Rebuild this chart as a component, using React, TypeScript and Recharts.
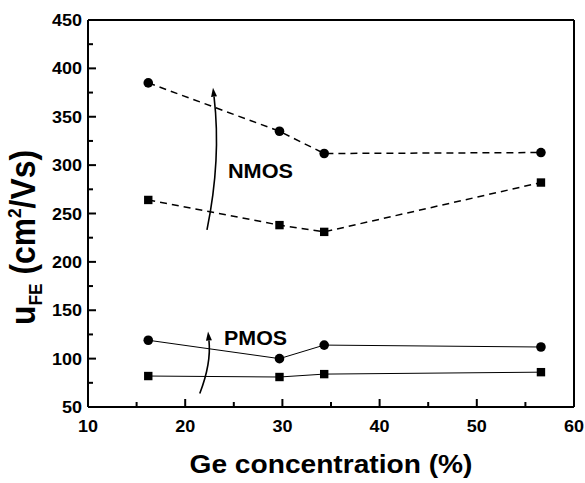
import React from "react";
import { ComposedChart, Line, XAxis, YAxis, ReferenceLine, ReferenceDot } from "recharts";

const geConc = [16.2, 29.7, 34.3, 56.6];
const nmosCircle = [385, 335, 312, 313];
const nmosSquare = [264, 238, 231, 282];
const pmosCircle = [119, 100, 114, 112];
const pmosSquare = [82, 81, 84, 86];

const xTicks = [10, 15, 20, 25, 30, 35, 40, 45, 50, 55, 60];
const yTicks = [50, 75, 100, 125, 150, 175, 200, 225, 250, 275, 300, 325, 350, 375, 400, 425, 450];

const rows = geConc.map((x, i) => ({
  x,
  nc: nmosCircle[i],
  ns: nmosSquare[i],
  pc: pmosCircle[i],
  ps: pmosSquare[i],
}));

const FONT = "'Liberation Sans', Arial, sans-serif";

// inward ticks drawn as reference dots placed on the axes through the chart scales
const xTickMark = (v: number) => (p: any) => {
  const major = v % 10 === 0;
  const label = String(v);
  return (
    <g>
      <line x1={p.cx} x2={p.cx} y1={p.cy} y2={p.cy - (major ? 8 : 5)} stroke="#000" strokeWidth={2} />
      {major && (
        <text x={p.cx} y={p.cy + 25} textAnchor="middle" fontFamily={FONT} fontWeight="bold" fontSize={16}
          textLength={label.length * 10} lengthAdjust="spacingAndGlyphs" fill="#000">
          {label}
        </text>
      )}
    </g>
  );
};

const yTickMark = (v: number) => (p: any) => {
  const major = v % 50 === 0;
  const label = String(v);
  return (
    <g>
      <line x1={p.cx} x2={p.cx + (major ? 8 : 5)} y1={p.cy} y2={p.cy} stroke="#000" strokeWidth={2} />
      {major && (
        <text x={p.cx - 6} y={p.cy + 6} textAnchor="end" fontFamily={FONT} fontWeight="bold" fontSize={16}
          textLength={label.length * 10} lengthAdjust="spacingAndGlyphs" fill="#000">
          {label}
        </text>
      )}
    </g>
  );
};

const Circle = (p: any) => <circle cx={p.cx} cy={p.cy} r={4.8} fill="#000" />;
const Square = (p: any) => <rect x={p.cx - 4.2} y={p.cy - 4.2} width={8.4} height={8.4} fill="#000" />;

const curvedArrow = (bend: number) => (p: any) => {
  const { x1, y1, x2, y2 } = p;
  const dx = x2 - x1;
  const dy = y2 - y1;
  const len = Math.hypot(dx, dy);
  const px = -dy / len;
  const py = dx / len;
  const cx = (x1 + x2) / 2 + px * bend * len;
  const cy = (y1 + y2) / 2 + py * bend * len;
  const ux0 = x2 - cx;
  const uy0 = y2 - cy;
  const un = Math.hypot(ux0, uy0);
  const ux = ux0 / un;
  const uy = uy0 / un;
  const bx = x2 - ux * 9;
  const by = y2 - uy * 9;
  const head = `${x2},${y2} ${bx - uy * 3},${by + ux * 3} ${bx + uy * 3},${by - ux * 3}`;
  return (
    <g>
      <path d={`M${x1},${y1} Q${cx},${cy} ${bx},${by}`} fill="none" stroke="#000" strokeWidth={1.6} />
      <polygon points={head} fill="#000" />
    </g>
  );
};

const YLabel = (p: any) => {
  const vb = p.viewBox;
  const cx = vb.x + 35;
  const cy = vb.y + vb.height / 2 + 24;
  return (
    <text x={cx} y={cy} transform={`rotate(-90, ${cx}, ${cy})`} textAnchor="middle" fontFamily={FONT}
      fontWeight="bold" fontSize={35} fill="#000" textLength={175} lengthAdjust="spacingAndGlyphs">
      u<tspan dy={7} fontSize={19}>FE</tspan>
      <tspan dy={-7}> (cm</tspan>
      <tspan dy={-14} fontSize={19}>2</tspan>
      <tspan dy={14}>/Vs)</tspan>
    </text>
  );
};

const XLabel = (p: any) => {
  const vb = p.viewBox;
  return (
    <text x={vb.x + vb.width / 2} y={vb.y + 66} textAnchor="middle" fontFamily={FONT} fontWeight="bold"
      fontSize={25} fill="#000" textLength={283} lengthAdjust="spacingAndGlyphs">
      Ge concentration (%)
    </text>
  );
};

const textMark = (label: string, width: number) => (p: any) => (
  <text x={p.cx} y={p.cy} fontFamily={FONT} fontWeight="bold" fontSize={21} fill="#000"
    textLength={width} lengthAdjust="spacingAndGlyphs">
    {label}
  </text>
);

export default function App() {
  return (
    <div style={{ position: "absolute", left: 0, top: 0, background: "#fff" }}>
      <ComposedChart width={585} height={483} data={rows} margin={{ top: 20, right: 11, left: 0, bottom: 0 }}>
        <XAxis type="number" dataKey="x" domain={[10, 60]} ticks={xTicks} height={76} tick={false} tickLine={false}
          axisLine={{ stroke: "#000", strokeWidth: 2 }} label={{ content: XLabel }} />
        <YAxis type="number" domain={[50, 450]} ticks={yTicks} width={88} tick={false} tickLine={false}
          axisLine={{ stroke: "#000", strokeWidth: 2 }} label={{ content: YLabel }} />
        <ReferenceLine y={450} stroke="#000" strokeWidth={2} />
        <ReferenceLine x={60} stroke="#000" strokeWidth={2} />
        {xTicks.map((v) => (
          <ReferenceDot key={`xt${v}`} x={v} y={50} r={0} shape={xTickMark(v)} />
        ))}
        {yTicks.map((v) => (
          <ReferenceDot key={`yt${v}`} x={10} y={v} r={0} shape={yTickMark(v)} />
        ))}
        <Line dataKey="nc" stroke="#000" strokeWidth={1.5} strokeDasharray="7 5" dot={Circle} isAnimationActive={false} />
        <Line dataKey="ns" stroke="#000" strokeWidth={1.5} strokeDasharray="7 5" dot={Square} isAnimationActive={false} />
        <Line dataKey="pc" stroke="#000" strokeWidth={1} dot={Circle} isAnimationActive={false} />
        <Line dataKey="ps" stroke="#000" strokeWidth={1} dot={Square} isAnimationActive={false} />
        <ReferenceLine segment={[{ x: 22.24, y: 233 }, { x: 22.86, y: 380 }]} shape={curvedArrow(0.08)} />
        <ReferenceLine segment={[{ x: 21.5, y: 64 }, { x: 22.35, y: 128 }]} shape={curvedArrow(0.12)} />
        <ReferenceDot x={24.4} y={286.7} r={0} shape={textMark("NMOS", 65)} />
        <ReferenceDot x={24.0} y={114.1} r={0} shape={textMark("PMOS", 63)} />
      </ComposedChart>
    </div>
  );
}
